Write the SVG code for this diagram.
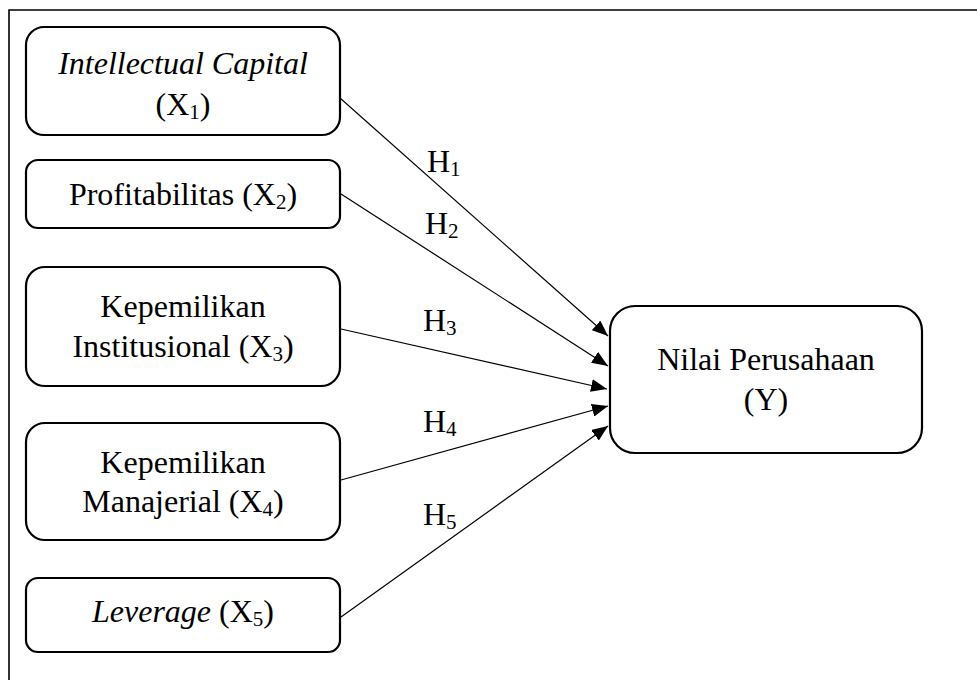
<svg xmlns="http://www.w3.org/2000/svg" width="977" height="680" viewBox="0 0 977 680">
<style>
  .box { fill: #ffffff; stroke: #000000; stroke-width: 2.2; }
  .t { font-family: "Liberation Serif", "Times New Roman", serif; font-size: 32px; fill: #000000; }
  .it { font-style: italic; }
  .sub { font-size: 21px; }
  .conn line { stroke: #000000; stroke-width: 1.2; fill: none; marker-end: url(#arrow); }
  .frame { stroke: #000000; stroke-width: 1.6; fill: none; }
</style>
<defs>
  <marker id="arrow" markerUnits="userSpaceOnUse" markerWidth="16" markerHeight="13" refX="16" refY="6.5" orient="auto">
    <path d="M0,0 L16,6.5 L0,13 z" fill="#000000"/>
  </marker>
</defs>
<rect width="977" height="680" fill="#ffffff"/>
<path class="frame" d="M9,680 L9,10 L977,10"/>

<g id="node-x1">
  <rect class="box" x="26" y="27" width="314" height="108" rx="18" ry="18"/>
  <text class="t it" x="183" y="74" text-anchor="middle">Intellectual Capital</text>
  <text class="t" x="183" y="115" text-anchor="middle">(X<tspan class="sub" dy="4">1</tspan><tspan dy="-4">)</tspan></text>
</g>
<g id="node-x2">
  <rect class="box" x="26" y="160" width="314" height="68" rx="12" ry="12"/>
  <text class="t" x="183" y="205" text-anchor="middle">Profitabilitas (X<tspan class="sub" dy="4">2</tspan><tspan dy="-4">)</tspan></text>
</g>
<g id="node-x3">
  <rect class="box" x="26" y="267" width="314" height="119" rx="19" ry="19"/>
  <text class="t" x="183" y="317" text-anchor="middle">Kepemilikan</text>
  <text class="t" x="183" y="357" text-anchor="middle">Institusional (X<tspan class="sub" dy="4">3</tspan><tspan dy="-4">)</tspan></text>
</g>
<g id="node-x4">
  <rect class="box" x="26" y="423" width="314" height="117" rx="19" ry="19"/>
  <text class="t" x="183" y="473" text-anchor="middle">Kepemilikan</text>
  <text class="t" x="183" y="512" text-anchor="middle">Manajerial (X<tspan class="sub" dy="4">4</tspan><tspan dy="-4">)</tspan></text>
</g>
<g id="node-x5">
  <rect class="box" x="26" y="578" width="314" height="74" rx="12" ry="12"/>
  <text class="t" x="183" y="622" text-anchor="middle"><tspan class="it">Leverage</tspan> (X<tspan class="sub" dy="4">5</tspan><tspan dy="-4">)</tspan></text>
</g>
<g id="node-y">
  <rect class="box" x="610" y="306" width="312" height="147" rx="25" ry="25"/>
  <text class="t" x="766" y="370" text-anchor="middle">Nilai Perusahaan</text>
  <text class="t" x="766" y="410" text-anchor="middle">(Y)</text>
</g>

<g id="connectors" class="conn">
  <line x1="340" y1="98" x2="608" y2="336"/>
  <line x1="341" y1="194" x2="608" y2="366"/>
  <line x1="341" y1="329" x2="607" y2="389"/>
  <line x1="341" y1="480" x2="608" y2="406"/>
  <line x1="341" y1="617" x2="608" y2="426"/>
</g>

<g id="labels">
  <text class="t" x="427" y="172">H<tspan class="sub" dy="4">1</tspan></text>
  <text class="t" x="425" y="234">H<tspan class="sub" dy="4">2</tspan></text>
  <text class="t" x="423" y="331">H<tspan class="sub" dy="4">3</tspan></text>
  <text class="t" x="423" y="432">H<tspan class="sub" dy="4">4</tspan></text>
  <text class="t" x="423" y="525">H<tspan class="sub" dy="4">5</tspan></text>
</g>
</svg>
